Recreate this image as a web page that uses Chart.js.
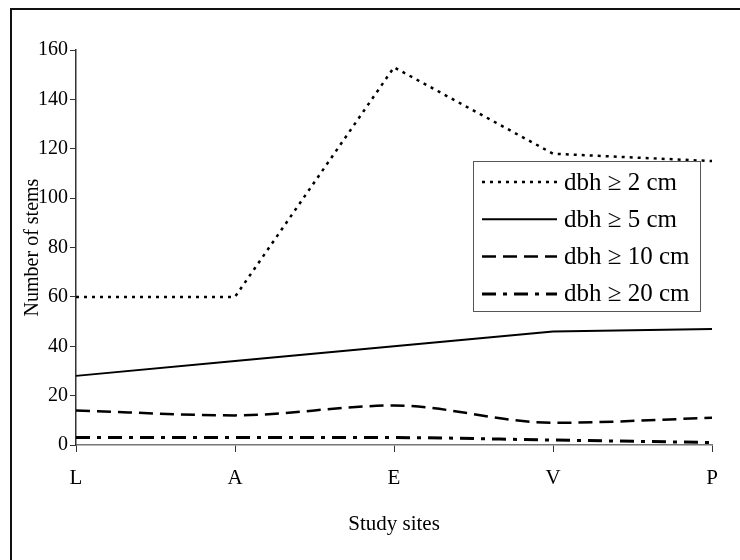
<!DOCTYPE html>
<html>
<head>
<meta charset="utf-8">
<script src="https://cdn.jsdelivr.net/npm/chart.js@4"></script>
<style>
  html, body { margin: 0; padding: 0; background: #fff; }
  #wrap { position: relative; width: 740px; height: 560px; overflow: hidden; }
  #frame { position: absolute; left: 10px; top: 8px; width: 800px; height: 600px;
           border-left: 2px solid #111; border-top: 2px solid #111; }
  canvas { position: absolute; left: 0; top: 0; }
</style>
</head>
<body>
<div id="wrap">
  <div id="frame"></div>
  <canvas id="chart" width="740" height="560"></canvas>
</div>
<script>
// study sites along the x axis
const sites = ["L", "A", "E", "V", "P"];

// number of stems per size class
const dbh2 = [60, 60, 153, 118, 115];
const dbh5 = [28, 34, 40, 46, 47];
const dbh10 = [14, 12, 16, 9, 11];
const dbh20 = [3, 3, 3, 2, 1];

const seriesLabels = ["dbh \u2265 2 cm", "dbh \u2265 5 cm", "dbh \u2265 10 cm", "dbh \u2265 20 cm"];

const FONT = "'Liberation Serif', 'Times New Roman', serif";

// draws the boxed legend inside the plot, Excel style
const boxLegend = {
  id: "boxLegend",
  afterDraw(chart) {
    const ctx = chart.ctx;
    const x0 = 473, y0 = 161, w = 227, h = 150;
    ctx.save();
    ctx.fillStyle = "#fff";
    ctx.fillRect(x0, y0, w, h);
    ctx.strokeStyle = "#555";
    ctx.lineWidth = 1;
    ctx.strokeRect(x0 + 0.5, y0 + 0.5, w, h);
    chart.data.datasets.forEach((ds, i) => {
      const y = y0 + 21 + i * 37.3;
      ctx.beginPath();
      ctx.setLineDash(ds.borderDash || []);
      ctx.lineWidth = ds.borderWidth;
      ctx.strokeStyle = ds.borderColor;
      ctx.moveTo(482, y);
      ctx.lineTo(557, y);
      ctx.stroke();
      ctx.setLineDash([]);
      ctx.fillStyle = "#000";
      ctx.font = "25px " + FONT;
      ctx.textBaseline = "middle";
      ctx.fillText(ds.label, 564, y + 1);
    });
    ctx.restore();
  }
};

const mk = (label, data, dash, width, smooth) => ({
  label: label,
  data: data,
  borderColor: "#000",
  borderWidth: width,
  borderDash: dash,
  pointRadius: 0,
  fill: false,
  tension: smooth ? 0.4 : 0,
  cubicInterpolationMode: smooth ? "monotone" : "default"
});

new Chart(document.getElementById("chart"), {
  type: "line",
  data: {
    labels: sites,
    datasets: [
      mk(seriesLabels[0], dbh2, [3, 5], 2.5, false),
      mk(seriesLabels[1], dbh5, [], 2, false),
      mk(seriesLabels[2], dbh10, [14, 7], 2.5, true),
      mk(seriesLabels[3], dbh20, [14, 7, 4, 7], 3, true)
    ]
  },
  options: {
    responsive: false,
    animation: false,
    layout: { padding: { left: 21, right: 28, top: 50, bottom: 0 } },
    plugins: {
      legend: { display: false },
      tooltip: { enabled: false }
    },
    scales: {
      x: {
        offset: false,
        grid: { drawOnChartArea: false, color: "#333", tickLength: 7 },
        border: { color: "#777", width: 1.5 },
        ticks: { color: "#000", font: { family: FONT, size: 21 }, padding: 14, maxRotation: 0 },
        title: { display: true, text: "Study sites", color: "#000",
                 font: { family: FONT, size: 21 }, padding: { top: 10, bottom: 23 } },
        afterFit: s => { s.height = 115; }
      },
      y: {
        min: 0,
        max: 160,
        ticks: { stepSize: 20, color: "#000", font: { family: FONT, size: 20 }, padding: 2 },
        grid: { drawOnChartArea: false, color: "#333", tickLength: 6 },
        border: { color: "#333", width: 1.5 },
        title: { display: true, text: "Number of stems", color: "#000",
                 font: { family: FONT, size: 20 }, padding: { top: 0, bottom: 0 } },
        afterFit: s => { s.width = 55; }
      }
    }
  },
  plugins: [boxLegend]
});
</script>
</body>
</html>
